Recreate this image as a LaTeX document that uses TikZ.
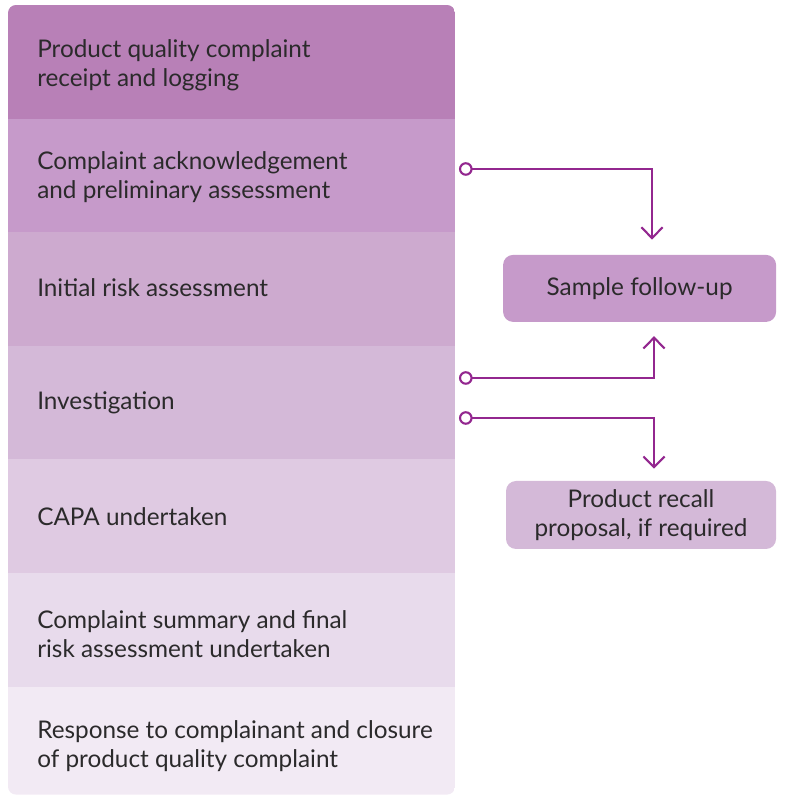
\documentclass[tikz,border=0pt]{standalone}
\usepackage{fontspec}
\setmainfont{Lato}
\usepackage{xcolor}
\usepackage{tikz}
\usetikzlibrary{arrows.meta, positioning}
\definecolor{stepA}{HTML}{B880B7}
\definecolor{stepB}{HTML}{C69ACA}
\definecolor{stepC}{HTML}{CDAACF}
\definecolor{stepD}{HTML}{D4B9D8}
\definecolor{stepE}{HTML}{DFCAE2}
\definecolor{stepF}{HTML}{E8DBEC}
\definecolor{stepG}{HTML}{F2EAF4}
\definecolor{linkpurple}{HTML}{93278F}
\definecolor{textgray}{HTML}{2B2A2B}

\begin{document}
\begin{tikzpicture}[font=\fontsize{17.3}{20.6}\selectfont, text=textgray,
  row/.style={rectangle, minimum width=11.175cm, minimum height=2.84cm, inner sep=0pt, outer sep=0pt, anchor=north west},
  rowtext/.style={align=left, inner sep=0pt},
  sidebox/.style={rectangle, rounded corners=0.25cm, align=center, inner sep=0pt},
  link/.style={linkpurple, line width=1.5pt, {Circle[open, length=0.34cm]}-{Straight Barb[length=0.27cm, width=0.53cm]}}]
  \useasboundingbox (0,0) rectangle (19.6,19.9);

  % Stack of steps
  \begin{scope}
    \clip[rounded corners=0.2cm] (0.2,0.035) rectangle (11.375,19.775);
    \foreach \i/\col/\dy/\txt in {1/stepA/-0.08/{Product quality complaint\\receipt and logging},
                                  2/stepB/-0.04/{Complaint acknowledgement\\and preliminary assessment},
                                  3/stepC/0.04/{Initial risk assessment},
                                  4/stepD/0/{Investigation},
                                  5/stepE/0/{CAPA undertaken},
                                  6/stepF/-0.12/{Complaint summary and final\\risk assessment undertaken},
                                  7/stepG/-0.08/{Response to complainant and closure\\of product quality complaint}}{
      \node[row, fill=\col] (r\i) at (0.2, {19.775-(\i-1)*2.84}) {};
      \node[rowtext, right=0.725cm of r\i.west, yshift=\dy cm] (t\i) {\txt};
    }
  \end{scope}

  % Side boxes
  \node[sidebox, fill=stepB, minimum width=6.825cm, minimum height=1.675cm] (follow) at (15.99,12.69) {Sample follow-up};
  \node[sidebox, fill=stepD, minimum width=6.75cm, minimum height=1.7cm] (recall) at (16.025,7.025) {Product recall\\proposal, if required};

  % Connectors
  \draw[link] ([xshift=0.1cm, yshift=0.16cm]r2.east) -| ([xshift=0.31cm, yshift=0.375cm]follow.north);
  \draw[link] ([xshift=0.1cm, yshift=0.615cm]r4.east) -| ([xshift=0.36cm, yshift=-0.35cm]follow.south);
  \draw[link] ([xshift=0.1cm, yshift=-0.385cm]r4.east) -| ([xshift=0.325cm, yshift=0.3cm]recall.north);
\end{tikzpicture}
\end{document}
